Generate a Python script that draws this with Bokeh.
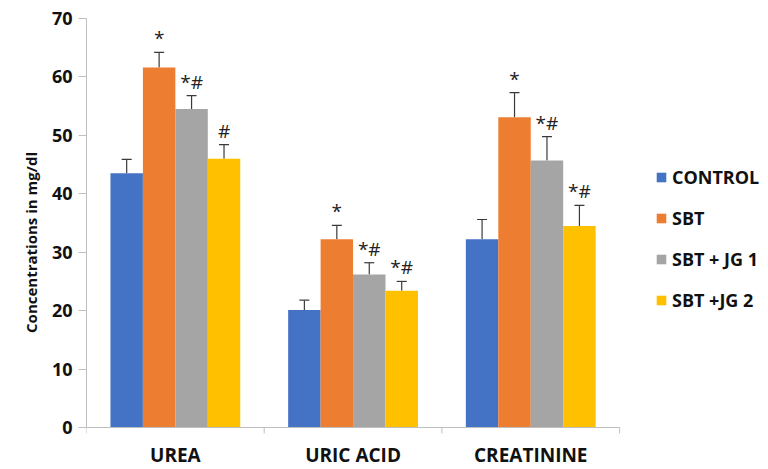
import numpy as np
from bokeh.plotting import figure
from bokeh.models import (ColumnDataSource, Range1d, FixedTicker, Whisker, TeeHead,
                          Legend, LegendItem)
from bokeh.core.properties import value
from bokeh.embed import file_html
from bokeh.resources import INLINE

categories = ["UREA", "URIC ACID", "CREATININE"]
groups = ["CONTROL", "SBT", "SBT + JG 1", "SBT +JG 2"]
colors = ["#4472C4", "#ED7D31", "#A5A5A5", "#FFC000"]

control = [43.5, 20.1, 32.2]
sbt = [61.6, 32.2, 53.1]
sbt_jg1 = [54.5, 26.2, 45.7]
sbt_jg2 = [46.0, 23.4, 34.5]

control_err = [2.4, 1.7, 3.4]
sbt_err = [2.6, 2.4, 4.2]
sbt_jg1_err = [2.3, 2.0, 4.1]
sbt_jg2_err = [2.4, 1.6, 3.5]

control_sig = ["", "", ""]
sbt_sig = ["*", "*", "*"]
sbt_jg1_sig = ["*#", "*#", "*#"]
sbt_jg2_sig = ["#", "*#", "*#"]

y_ticks = [0, 10, 20, 30, 40, 50, 60, 70]
y_max = 70

series = [control, sbt, sbt_jg1, sbt_jg2]
errors = [control_err, sbt_err, sbt_jg1_err, sbt_jg2_err]
sigs = [control_sig, sbt_sig, sbt_jg1_sig, sbt_jg2_sig]

FONT = "Open Sans"
W, H = 764, 466
LEFT, TOP = 86, 18
PLOT_PX = 409          # pixel height of 0..70
CAT_PX = 177.7         # pixel width of one category
BELOW_PX = H - TOP - PLOT_PX   # room under the zero line for ticks and labels
bw = 0.1826
ncat = len(categories)

y_start = -BELOW_PX * y_max / PLOT_PX
x_end = (W - LEFT) / CAT_PX

p = figure(width=W, height=H, output_backend="svg", toolbar_location=None,
           x_range=Range1d(0, x_end), y_range=Range1d(y_start, y_max),
           min_border_left=LEFT, min_border_top=TOP, min_border_bottom=0,
           min_border_right=0, x_axis_location=None)
p.outline_line_color = None
p.grid.visible = False

centers = np.arange(ncat) + 0.5
items = []
for j, (vals, err, sig, col, name) in enumerate(zip(series, errors, sigs, colors, groups)):
    xs = centers + (j - 1.5) * bw
    upper = [v + e for v, e in zip(vals, err)]
    src = ColumnDataSource(dict(x=xs, top=vals, upper=upper, sig=sig))
    r = p.vbar(x="x", top="top", width=bw, bottom=0, source=src,
               fill_color=col, line_color=None)
    items.append(LegendItem(label=name, renderers=[r]))
    w = Whisker(source=src, base="x", lower="top", upper="upper",
                line_color="#3a3a3a", line_width=1.2,
                upper_head=TeeHead(size=10, line_color="#3a3a3a", line_width=1.2),
                lower_head=None)
    p.add_layout(w)
    p.text(x="x", y="upper", text="sig", source=src, text_align="center",
           text_baseline="bottom", y_offset=-1, text_font=value(FONT),
           text_font_size="19px", text_color="#222222")

# category axis drawn at the zero line
tick_len = 6 * y_max / PLOT_PX
bounds = list(range(ncat + 1))
p.segment(x0=[0], y0=[0], x1=[ncat], y1=[0], line_color="#BFBFBF", line_width=1)
p.segment(x0=bounds, y0=[0] * len(bounds), x1=bounds, y1=[-tick_len] * len(bounds),
          line_color="#BFBFBF", line_width=1)
p.text(x=centers, y=[0] * ncat, text=categories, text_align="center",
       text_baseline="middle", y_offset=27, text_font=value(FONT),
       text_font_style="bold", text_font_size="19px", text_color="#111111")

ya = p.yaxis[0]
ya.bounds = (0, y_max)
ya.ticker = FixedTicker(ticks=y_ticks, minor_ticks=[])
ya.axis_line_color = "#BFBFBF"
ya.major_tick_line_color = "#BFBFBF"
ya.major_tick_out = 8
ya.major_tick_in = 0
ya.minor_tick_out = 0
ya.minor_tick_in = 0
ya.major_label_text_font = FONT
ya.major_label_text_font_style = "bold"
ya.major_label_text_font_size = "18px"
ya.major_label_text_color = "#111111"
ya.major_label_standoff = 6
ya.axis_label = "Concentrations in mg/dl"
ya.axis_label_text_font = FONT
ya.axis_label_text_font_style = "bold"
ya.axis_label_text_font_size = "15px"
ya.axis_label_text_color = "#111111"
ya.axis_label_standoff = 8

legend = Legend(items=items, location=(569, 154), orientation="vertical",
                glyph_width=12, glyph_height=12, label_standoff=5,
                label_height=20, spacing=17, padding=0, margin=0,
                border_line_color=None, background_fill_alpha=0,
                label_text_font=FONT, label_text_font_style="bold",
                label_text_font_size="18px", label_text_color="#111111")
p.add_layout(legend)

open("out.html", "w").write(file_html(p, INLINE))
